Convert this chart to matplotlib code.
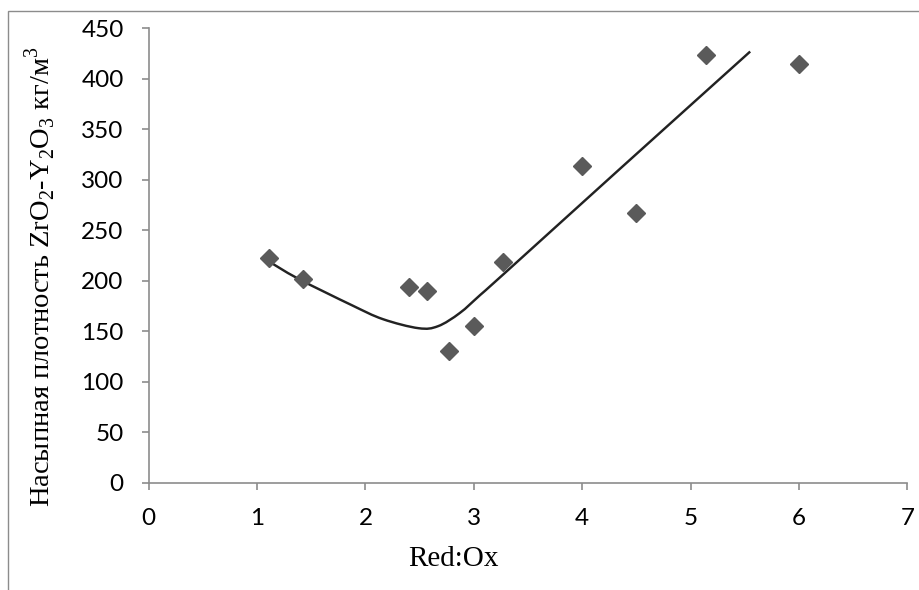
import matplotlib.pyplot as plt
from matplotlib.patches import Rectangle, PathPatch
from matplotlib.path import Path

plt.rcParams['mathtext.fontset'] = 'custom'
plt.rcParams['mathtext.rm'] = 'Liberation Serif'

# measured bulk density vs Red:Ox ratio
red_ox = [1.11, 1.42, 2.40, 2.57, 2.77, 3.00, 3.27, 4.00, 4.50, 5.14, 6.00]
density = [223, 202, 194, 190, 130, 155, 219, 314, 267, 424, 415]

# trend curve
trend_x = [1.08, 1.38, 1.87, 2.16, 2.49, 2.67, 2.87, 3.06, 3.30, 4.35, 5.55]
trend_y = [221, 202, 176, 162, 153, 155, 168, 186, 209, 311, 427]

xticks = [0, 1, 2, 3, 4, 5, 6, 7]
yticks = [0, 50, 100, 150, 200, 250, 300, 350, 400, 450]


def smooth_path(xs, ys):
    # Catmull-Rom through the points, written as cubic Bezier segments
    pts = list(zip(xs, ys))
    verts = [pts[0]]
    codes = [Path.MOVETO]
    for i in range(len(pts) - 1):
        p0 = pts[i - 1] if i > 0 else pts[i]
        p1 = pts[i]
        p2 = pts[i + 1]
        p3 = pts[i + 2] if i + 2 < len(pts) else pts[i + 1]
        c1 = (p1[0] + (p2[0] - p0[0]) / 6, p1[1] + (p2[1] - p0[1]) / 6)
        c2 = (p2[0] - (p3[0] - p1[0]) / 6, p2[1] - (p3[1] - p1[1]) / 6)
        verts += [c1, c2, p2]
        codes += [Path.CURVE4] * 3
    return Path(verts, codes)


fig = plt.figure(figsize=(9.19, 5.90), dpi=100)
ax = fig.add_axes([0.1618, 0.1819, 0.8255, 0.7701])

# chart area border (only left and top edges are visible)
fig.patches.append(Rectangle((8 / 919, -0.1), 1.2, 1.1 - 11 / 590,
                             transform=fig.transFigure, fill=False,
                             edgecolor='#8c8c8c', linewidth=1.0))

ax.add_patch(PathPatch(smooth_path(trend_x, trend_y), fill=False,
                       edgecolor='#222222', linewidth=1.75, zorder=2))
ax.plot(red_ox, density, linestyle='none', marker='D', markersize=8.8,
        color='#5a5a5a', zorder=3)

ax.set_xlim(0, 7)
ax.set_ylim(0, 450)
ax.set_xticks(xticks)
ax.set_yticks(yticks)

for side in ['top', 'right']:
    ax.spines[side].set_visible(False)
for side in ['left', 'bottom']:
    ax.spines[side].set_color('#8c8c8c')
    ax.spines[side].set_linewidth(1.2)

ax.tick_params(axis='both', direction='out', length=5, width=1.2,
               color='#8c8c8c', labelsize=17.5)
ax.tick_params(axis='x', pad=13)
ax.tick_params(axis='y', pad=13)
for lbl in ax.get_xticklabels() + ax.get_yticklabels():
    lbl.set_family('Lato')

fig.text(453 / 919, 1 - 559 / 590, 'Red:Ox', ha='center', va='center',
         family='Liberation Serif', fontsize=21)
fig.text(40 / 919, 1 - 277 / 590,
         r'Насыпная плотность ZrO$_\mathregular{2}$-Y$_\mathregular{2}$O$_\mathregular{3}$ кг/м$^\mathregular{3}$',
         rotation=90, ha='center', va='center',
         family='Liberation Serif', fontsize=20.5)

fig.savefig('out.png', dpi=100)
